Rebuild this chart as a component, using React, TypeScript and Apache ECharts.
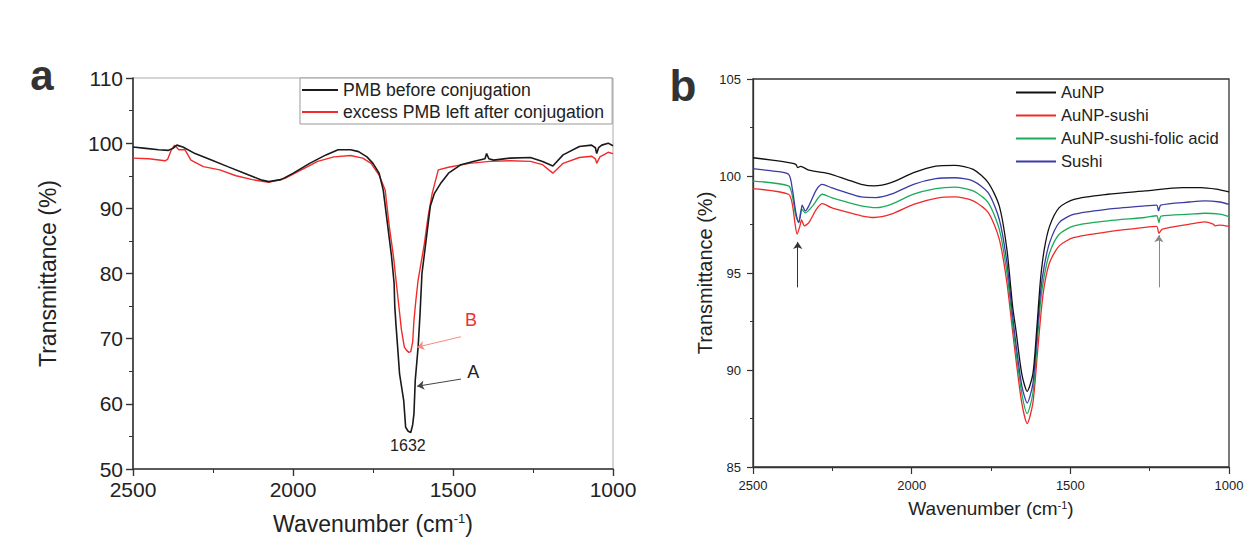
import React, { useEffect, useRef } from "react";
import * as echarts from "echarts";

// ---------- Panel a data: [wavenumber (cm-1), transmittance (%)] ----------
const pmbBefore: [number, number][] = [
  [2500, 99.4], [2460, 99.2], [2420, 99.0], [2389, 98.9], [2375, 99.2], [2363, 99.7], [2344, 99.4],
  [2306, 98.4], [2255, 97.4], [2204, 96.4], [2152, 95.4], [2101, 94.4], [2076, 94.1], [2037, 94.4],
  [1999, 95.4], [1948, 96.9], [1897, 98.2], [1859, 99.0], [1820, 99.0], [1795, 98.7], [1769, 97.9],
  [1750, 96.9], [1731, 95.4], [1718, 92.8], [1705, 87.7], [1692, 82.6], [1684, 78.5], [1682, 75],
  [1678, 72], [1673, 68.7], [1667, 64.6], [1654, 60.5], [1648, 56.4], [1640, 55.8], [1632, 55.6],
  [1626, 56.8], [1622, 58.5], [1618, 63.6], [1609, 68.7], [1603, 73.8], [1597, 80], [1584, 85.1],
  [1571, 90.3], [1558, 92.3], [1539, 93.8], [1514, 95.4], [1475, 96.7], [1437, 97.2], [1400, 97.6],
  [1395, 98.4], [1388, 97.6], [1373, 97.4], [1322, 97.7], [1258, 97.8], [1220, 97.2], [1188, 96.5],
  [1156, 98.2], [1105, 99.5], [1067, 99.7], [1055, 99.3], [1051, 98.4], [1045, 99.3], [1035, 99.7],
  [1015, 100.0], [1000, 99.6],
];
const pmbAfter: [number, number][] = [
  [2500, 97.7], [2450, 97.6], [2400, 97.3], [2392, 97.5], [2380, 99.0], [2370, 99.7], [2357, 99.0],
  [2338, 99.0], [2319, 97.4], [2280, 96.4], [2229, 95.9], [2178, 95.0], [2127, 94.4], [2076, 94.0],
  [2025, 94.6], [1974, 95.9], [1923, 97.2], [1872, 97.9], [1820, 98.1], [1782, 97.7], [1756, 96.9],
  [1731, 95.1], [1712, 92.8], [1699, 87.2], [1686, 82.6], [1677, 78.5], [1669, 74.9], [1661, 71.3],
  [1652, 68.7], [1645, 68.2], [1638, 67.9], [1632, 68.0], [1626, 69.5], [1622, 72.8], [1616, 75.9],
  [1609, 79], [1590, 84.4], [1578, 88.7], [1565, 92.3], [1546, 95.9], [1514, 96.3], [1449, 96.9],
  [1385, 97.2], [1322, 97.3], [1258, 97.2], [1220, 96.7], [1188, 95.4], [1156, 96.9], [1105, 97.8],
  [1067, 98.0], [1055, 97.6], [1051, 96.9], [1041, 97.9], [1015, 98.6], [1000, 98.4],
];

// ---------- Panel b data ----------
const auNP: [number, number][] = [
  [2500, 100.94], [2440, 100.82], [2382, 100.68], [2365, 100.6], [2359, 100.43], [2350, 100.5],
  [2324, 100.3], [2265, 100.14], [2206, 99.83], [2159, 99.57], [2118, 99.49], [2065, 99.66],
  [1994, 100.17], [1924, 100.51], [1865, 100.55], [1806, 100.34], [1759, 99.66], [1724, 98.46],
  [1700, 96.23], [1682, 93.3], [1671, 92.0], [1653, 89.8], [1636, 88.9], [1618, 89.8], [1606, 92.07],
  [1594, 94.66], [1582, 96.23], [1565, 97.43], [1535, 98.37], [1488, 98.8], [1382, 99.06],
  [1265, 99.23], [1147, 99.4], [1088, 99.4], [1041, 99.32], [1000, 99.18],
];
const auNPSushi: [number, number][] = [
  [2500, 99.35], [2388, 99.06], [2376, 98.54], [2368, 97.6], [2361, 97.0], [2352, 97.43],
  [2347, 97.74], [2338, 97.43], [2324, 97.6], [2300, 98.29], [2282, 98.58], [2253, 98.37],
  [2206, 98.15], [2159, 97.95], [2118, 97.86], [2065, 98.03], [1994, 98.54], [1924, 98.85],
  [1865, 98.92], [1806, 98.72], [1759, 98.12], [1724, 96.75], [1700, 94.52], [1682, 92.0],
  [1671, 90.5], [1653, 88.3], [1636, 87.24], [1618, 88.3], [1604, 90.8], [1592, 93.0], [1582, 94.35],
  [1565, 95.55], [1535, 96.4], [1488, 96.83], [1382, 97.12], [1265, 97.35], [1228, 97.4],
  [1221, 97.05], [1210, 97.26], [1124, 97.52], [1076, 97.64], [1050, 97.52], [1043, 97.43],
  [1029, 97.47], [1000, 97.4],
];
const auNPSushiFolic: [number, number][] = [
  [2500, 99.74], [2388, 99.49], [2376, 98.97], [2365, 97.95], [2356, 97.6], [2347, 98.3],
  [2335, 98.1], [2312, 98.46], [2282, 99.06], [2253, 98.89], [2206, 98.66], [2159, 98.46],
  [2112, 98.37], [2065, 98.54], [1994, 99.06], [1924, 99.35], [1865, 99.43], [1806, 99.23],
  [1759, 98.63], [1724, 97.26], [1700, 95.03], [1682, 92.4], [1671, 90.9], [1653, 88.8],
  [1636, 87.76], [1618, 88.8], [1606, 91.1], [1594, 93.5], [1582, 94.86], [1565, 96.06],
  [1535, 97.0], [1488, 97.43], [1382, 97.69], [1265, 97.86], [1228, 97.95], [1221, 97.6],
  [1214, 97.93], [1124, 98.03], [1076, 98.08], [1029, 98.03], [1000, 97.91],
];
const sushi: [number, number][] = [
  [2500, 100.38], [2441, 100.26], [2388, 100.09], [2376, 99.32], [2365, 98.12], [2356, 97.6],
  [2349, 98.1], [2345, 98.5], [2335, 98.2], [2324, 98.46], [2300, 99.3], [2282, 99.57],
  [2253, 99.4], [2206, 99.14], [2159, 98.92], [2112, 98.89], [2065, 99.06], [1994, 99.57],
  [1924, 99.86], [1865, 99.91], [1806, 99.74], [1759, 99.14], [1724, 97.77], [1700, 95.55],
  [1682, 92.8], [1671, 91.3], [1653, 89.2], [1636, 88.3], [1618, 89.3], [1606, 91.6], [1594, 94.0],
  [1582, 95.38], [1565, 96.58], [1535, 97.6], [1488, 98.03], [1382, 98.29], [1265, 98.46],
  [1228, 98.5], [1222, 98.2], [1215, 98.5], [1124, 98.66], [1076, 98.72], [1029, 98.66],
  [1000, 98.54],
];

const namesA = ["PMB before conjugation", "excess PMB left after conjugation"];
const namesB = ["AuNP", "AuNP-sushi", "AuNP-sushi-folic acid", "Sushi"];

// annotation anchors (data coordinates)
const arrowB: [number, number][] = [[1475, 70.3], [1612, 68.7]];
const arrowA: [number, number][] = [[1475, 63.8], [1612, 62.7]];
const labelB: [number, number] = [1444, 72.9];
const labelA: [number, number] = [1437, 64.9];
const label1632: [number, number] = [1641, 53.6];
const arrowBand1: [number, number][] = [[2359, 94.26], [2359, 96.6]];
const arrowBand2: [number, number][] = [[1221, 94.26], [1221, 96.95]];

const FONT = "Arial, 'Liberation Sans', Helvetica, sans-serif";
const plain = (v: number) => String(v);

export default function App() {
  const ref = useRef<HTMLDivElement>(null);
  useEffect(() => {
    if (!ref.current) return;
    const chart = echarts.init(ref.current, undefined, { renderer: "svg" });

    const xAxisBase = (gridIndex: number, big: boolean) => ({
      type: "value",
      gridIndex,
      min: 1000,
      max: 2500,
      interval: 500,
      inverse: true,
      name: "Wavenumber (cm{sup|-1})",
      nameLocation: "middle",
      nameGap: big ? 43 : 32,
      nameTextStyle: {
        fontFamily: FONT,
        fontSize: big ? 23 : 19,
        color: "#222",
        rich: {
          sup: { fontSize: big ? 13 : 11, verticalAlign: "top", color: "#222", fontFamily: FONT },
        },
      },
      axisLine: { show: true, lineStyle: { color: "#333", width: big ? 1.6 : 1.3 } },
      axisTick: { show: true, length: 7, lineStyle: { color: "#333", width: big ? 1.4 : 1.2 } },
      minorTick: { show: true, splitNumber: 2, length: 4, lineStyle: { color: "#333", width: 1 } },
      splitLine: { show: false },
      axisLabel: {
        fontFamily: FONT,
        fontSize: big ? 21 : 13,
        color: "#222",
        margin: big ? 10 : 12,
        formatter: plain,
        hideOverlap: false,
        showMinLabel: true,
        showMaxLabel: true,
      },
    });

    const option: any = {
      animation: false,
      backgroundColor: "#fff",
      textStyle: { fontFamily: FONT },
      grid: [
        { left: 133, right: 633, top: 78, bottom: 72, show: true, borderColor: "#aaa", borderWidth: 1, outerBoundsMode: "none" },
        { left: 753, right: 17, top: 79, bottom: 74, show: true, borderColor: "#333", borderWidth: 1.3, outerBoundsMode: "none" },
      ],
      xAxis: [xAxisBase(0, true), xAxisBase(1, false)],
      yAxis: [
        {
          type: "value",
          gridIndex: 0,
          min: 50,
          max: 110,
          interval: 10,
          name: "Transmittance (%)",
          nameLocation: "middle",
          nameGap: 74,
          nameTextStyle: { fontFamily: FONT, fontSize: 23, color: "#222" },
          axisLine: { show: true, lineStyle: { color: "#333", width: 1.6 } },
          axisTick: { show: true, length: 7, lineStyle: { color: "#333", width: 1.4 } },
          minorTick: { show: true, splitNumber: 2, length: 4, lineStyle: { color: "#333", width: 1 } },
          splitLine: { show: false },
          axisLabel: { fontFamily: FONT, fontSize: 21, color: "#222", margin: 10, formatter: plain },
        },
        {
          type: "value",
          gridIndex: 1,
          min: 85,
          max: 105,
          interval: 5,
          name: "Transmittance (%)",
          nameLocation: "middle",
          nameGap: 33,
          nameTextStyle: { fontFamily: FONT, fontSize: 20, color: "#222" },
          axisLine: { show: true, lineStyle: { color: "#333", width: 1.3 } },
          axisTick: { show: true, length: 6, lineStyle: { color: "#333", width: 1.2 } },
          minorTick: { show: true, splitNumber: 2, length: 3, lineStyle: { color: "#333", width: 1 } },
          splitLine: { show: false },
          axisLabel: { fontFamily: FONT, fontSize: 13, color: "#222", margin: 12, formatter: plain },
        },
      ],
      legend: [
        {
          data: namesA,
          orient: "vertical",
          left: 300,
          top: 78,
          padding: [3, 8, 3, 1],
          itemGap: 4,
          itemWidth: 36,
          itemHeight: 12,
          itemStyle: { opacity: 0 },
          borderColor: "#999",
          borderWidth: 1,
          backgroundColor: "#fff",
          selectedMode: false,
          textStyle: { fontFamily: FONT, fontSize: 17.6, color: "#222", lineHeight: 18 },
        },
        {
          data: namesB,
          orient: "vertical",
          left: 1015,
          top: 84,
          padding: 0,
          itemGap: 6,
          itemWidth: 40,
          itemHeight: 14,
          itemStyle: { opacity: 0 },
          selectedMode: false,
          textStyle: { fontFamily: FONT, fontSize: 16.6, color: "#222", lineHeight: 17 },
        },
      ],
      graphic: [
        {
          type: "text",
          x: 42,
          y: 75,
          style: { text: "a", font: `bold 42px ${FONT}`, fill: "#333", align: "center", verticalAlign: "middle" },
        },
        {
          type: "text",
          x: 683,
          y: 85,
          style: { text: "b", font: `bold 44px ${FONT}`, fill: "#333", align: "center", verticalAlign: "middle" },
        },
      ],
      series: [
        {
          name: namesA[0],
          type: "line",
          xAxisIndex: 0,
          yAxisIndex: 0,
          data: pmbBefore,
          symbol: "none",
          lineStyle: { color: "#1a1a1a", width: 1.6 },
          itemStyle: { color: "#1a1a1a" },
          z: 3,
          markLine: {
            silent: true,
            symbol: ["none", "arrow"],
            symbolSize: 7,
            label: { show: false },
            lineStyle: { color: "#444", width: 1, type: "solid" },
            data: [[{ coord: arrowA[0] }, { coord: arrowA[1] }]],
          },
          markPoint: {
            silent: true,
            symbol: "circle",
            symbolSize: 1,
            itemStyle: { color: "rgba(0,0,0,0)" },
            data: [
              { coord: labelA, label: { show: true, position: "inside", formatter: "A", fontSize: 18, color: "#222", fontFamily: FONT } },
              { coord: label1632, label: { show: true, position: "inside", formatter: "1632", fontSize: 16, color: "#222", fontFamily: FONT } },
            ],
          },
        },
        {
          name: namesA[1],
          type: "line",
          xAxisIndex: 0,
          yAxisIndex: 0,
          data: pmbAfter,
          symbol: "none",
          lineStyle: { color: "#f22a2a", width: 1.4 },
          itemStyle: { color: "#f22a2a" },
          z: 2,
          markLine: {
            silent: true,
            symbol: ["none", "arrow"],
            symbolSize: 7,
            label: { show: false },
            lineStyle: { color: "#f48a80", width: 1, type: "solid" },
            itemStyle: { color: "#e02020" },
            data: [[{ coord: arrowB[0] }, { coord: arrowB[1] }]],
          },
          markPoint: {
            silent: true,
            symbol: "circle",
            symbolSize: 1,
            itemStyle: { color: "rgba(0,0,0,0)" },
            data: [
              { coord: labelB, label: { show: true, position: "inside", formatter: "B", fontSize: 18, color: "#f03030", fontFamily: FONT } },
            ],
          },
        },
        {
          name: namesB[0],
          type: "line",
          xAxisIndex: 1,
          yAxisIndex: 1,
          data: auNP,
          symbol: "none",
          smooth: 0.25,
          lineStyle: { color: "#111", width: 1.3 },
          itemStyle: { color: "#111" },
          z: 5,
          markLine: {
            silent: true,
            symbol: ["none", "arrow"],
            symbolSize: 7,
            label: { show: false },
            lineStyle: { color: "#333", width: 1, type: "solid" },
            data: [
              [{ coord: arrowBand1[0] }, { coord: arrowBand1[1] }],
              [{ coord: arrowBand2[0] }, { coord: arrowBand2[1], lineStyle: { color: "#888" } }],
            ],
          },
        },
        {
          name: namesB[1],
          type: "line",
          xAxisIndex: 1,
          yAxisIndex: 1,
          data: auNPSushi,
          symbol: "none",
          smooth: 0.25,
          lineStyle: { color: "#ee2b2b", width: 1.3 },
          itemStyle: { color: "#ee2b2b" },
          z: 2,
        },
        {
          name: namesB[2],
          type: "line",
          xAxisIndex: 1,
          yAxisIndex: 1,
          data: auNPSushiFolic,
          symbol: "none",
          smooth: 0.25,
          lineStyle: { color: "#1bab5a", width: 1.3 },
          itemStyle: { color: "#1bab5a" },
          z: 3,
        },
        {
          name: namesB[3],
          type: "line",
          xAxisIndex: 1,
          yAxisIndex: 1,
          data: sushi,
          symbol: "none",
          smooth: 0.25,
          lineStyle: { color: "#3b3ba6", width: 1.3 },
          itemStyle: { color: "#3b3ba6" },
          z: 4,
        },
      ],
    };

    chart.setOption(option);
    return () => chart.dispose();
  }, []);

  return (
    <div
      ref={ref}
      style={{ position: "absolute", left: 0, top: 0, width: 1246, height: 541, overflow: "visible" }}
    />
  );
}
